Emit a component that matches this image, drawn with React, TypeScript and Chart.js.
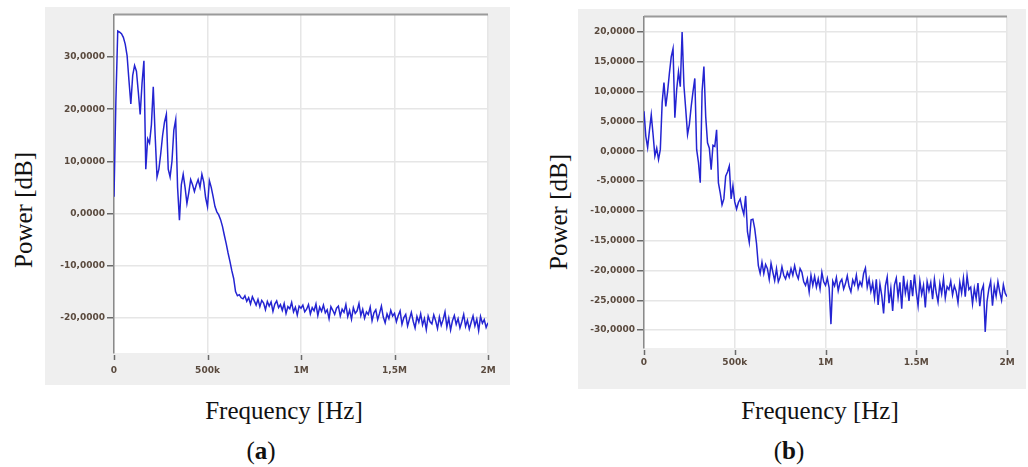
import React, { useEffect, useRef } from 'react';
import { Chart, registerables } from 'chart.js';

Chart.register(...registerables);

// Sample grid of the spectrum analyser traces
const FREQ_STEP_HZ = 10000;

// Panel (a): power in dB, one value every 10 kHz from 0 to 2 MHz
const powerA: number[] = [
  3.2, 21.5, 35.0, 34.8, 34.5, 33.8, 32.5, 30.3, 25.5, 21.0,
  26.5, 28.4, 27.3, 23.3, 19.0, 25.0, 29.3, 8.5, 14.3, 13.5,
  17.0, 24.3, 15.0, 7.0, 8.5, 11.5, 15.0, 17.5, 19.0, 8.5,
  7.0, 10.0, 16.0, 18.0, 5.0, -1.3, 5.5, 7.5, 5.0, 1.9,
  4.0, 6.5, 5.5, 4.2, 5.5, 6.5, 5.0, 7.5, 6.0, 3.0,
  1.3, 6.3, 5.0, 3.2, 1.3, 0.3, -0.3, -1.2, -2.5, -4.2,
  -5.8, -7.6, -9.2, -11.0, -12.5, -15.0, -15.8, -15.6, -16.2, -16.4,
  -15.8, -16.9, -16.2, -17.4, -16.0, -16.8, -17.6, -16.5, -17.9, -16.7,
  -17.2, -18.5, -16.9, -17.8, -17.0, -18.8, -17.4, -16.8, -18.1, -17.5,
  -18.6, -17.3, -19.2, -17.9, -18.3, -17.1, -18.9, -18.0, -19.5, -17.8,
  -18.2, -17.6, -18.9, -18.4, -17.5, -19.3, -18.1, -18.7, -17.4, -19.6,
  -18.0, -18.8, -17.6, -19.1, -18.5, -20.2, -17.9, -18.6, -19.4, -18.2,
  -17.8, -19.7, -18.4, -19.0, -17.5, -19.8, -18.6, -20.3, -18.1, -19.2,
  -18.7, -17.3, -19.6, -18.4, -20.1, -18.9, -19.4, -18.0, -20.6, -19.1,
  -18.5, -20.4, -19.2, -17.8, -19.9, -21.0, -19.3, -20.2, -18.6, -19.7,
  -19.2, -20.8, -19.6, -18.7, -21.3, -20.0, -19.4, -21.6, -20.3, -19.0,
  -20.7, -22.0, -19.8, -20.9, -19.3, -21.4, -20.2, -22.3, -19.7, -20.8,
  -21.2, -19.5, -20.6, -22.1, -19.9, -21.5, -20.4, -18.9, -21.8, -20.1,
  -22.4, -20.6, -19.6, -21.3, -20.2, -22.0, -20.8, -19.4, -21.7, -20.5,
  -22.2, -20.9, -19.7, -21.6, -20.3, -22.5, -19.8, -21.1, -20.4, -21.9,
  -21.0,
];

// Panel (b): power in dB, one value every 10 kHz from 0 to 2 MHz
const powerB: number[] = [
  6.7, 2.5, 0.6, 3.5, 6.1, 2.8, -0.8, 0.5, -1.4, 0.3,
  8.1, 11.5, 7.5, 10.0, 13.1, 15.8, 17.2, 5.6, 10.3, 13.3,
  10.8, 20.0, 11.0, 7.0, 2.8, 4.5, 7.5, 10.0, 12.2, 0.3,
  -1.9, -5.3, 10.0, 14.2, 5.8, 1.4, 0.5, -3.1, 1.0, 0.8,
  3.6, -5.3, -7.0, -9.0, -8.0, -4.2, -3.5, -2.5, -8.0, -5.8,
  -8.5, -9.7, -8.6, -8.0, -9.5, -10.6, -7.5, -13.5, -15.3, -11.5,
  -11.4, -13.0, -15.5, -19.2, -20.5, -18.6, -20.5, -19.0, -19.7, -21.5,
  -18.8, -20.3, -21.7, -19.7, -21.9, -21.1, -19.4, -20.8, -21.4, -20.3,
  -21.1, -19.7, -20.8, -19.2, -20.6, -21.4, -19.7, -20.3, -21.9, -22.5,
  -21.4, -23.6, -20.8, -22.5, -21.0, -22.8, -21.4, -23.1, -20.3, -21.9,
  -22.5, -21.3, -22.9, -29.0, -21.8, -22.6, -21.2, -23.4, -22.0, -21.5,
  -23.1, -22.2, -20.9, -22.7, -23.6, -21.6, -22.4, -20.8, -23.0, -21.9,
  -22.6, -20.5, -19.6, -22.8, -21.4, -23.5, -22.1, -24.6, -21.5, -25.8,
  -22.3, -24.2, -27.2, -22.6, -21.1, -25.5, -23.0, -26.8, -22.4, -21.3,
  -24.5, -22.0, -26.4, -20.9, -23.8, -22.2, -25.1, -21.6, -24.3, -20.7,
  -23.6, -25.9, -21.8, -24.0, -22.5, -26.2, -21.9, -23.4, -22.0, -24.8,
  -21.5, -23.7, -25.3, -22.2, -23.9, -21.4, -24.6, -22.7, -23.2, -21.8,
  -24.1, -22.6, -23.5, -25.4, -22.0, -23.8, -21.3, -24.4, -20.9, -23.2,
  -22.8, -25.6, -23.0, -24.7, -22.1, -26.0, -23.4, -22.5, -30.3, -25.2,
  -23.1, -21.8, -25.9, -22.7, -24.3, -21.9, -23.6, -25.0, -22.4, -23.8,
  -24.4,
];

const xTickValues = [0, 500000, 1000000, 1500000, 2000000];
const xTickLabelsA = ['0', '500k', '1M', '1,5M', '2M'];
const xTickLabelsB = ['0', '500k', '1M', '1.5M', '2M'];
const yTicksA = [30, 20, 10, 0, -10, -20];
const yTicksB = [20, 15, 10, 5, 0, -5, -10, -15, -20, -25, -30];

const LINE_COLOR = '#2424d2';
const TICK_TEXT = '#5a4a3e';
const GRID = '#e6e6e6';
const PANEL_BG = '#efefef';

type PanelProps = {
  values: number[];
  xLabels: string[];
  yTicks: number[];
  yMin: number;
  yMax: number;
  width: number;
  height: number;
  padTop: number;
  padRight: number;
  yAxisWidth: number;
  xAxisHeight: number;
  xLabelPad: number;
  xTickGap: number;
};

function SpectrumPanel(p: PanelProps) {
  const ref = useRef<HTMLCanvasElement | null>(null);
  useEffect(() => {
    if (!ref.current) return;
    const framePlugin = {
      id: 'frame',
      beforeDraw(chart: any) {
        const { ctx, chartArea: a } = chart;
        ctx.save();
        ctx.fillStyle = PANEL_BG;
        ctx.fillRect(0, 0, chart.width, chart.height);
        ctx.fillStyle = '#ffffff';
        ctx.fillRect(a.left, a.top, a.right - a.left, a.bottom - a.top);
        ctx.restore();
      },
      afterDraw(chart: any) {
        const { ctx, chartArea: a } = chart;
        const xs = chart.scales.x;
        ctx.save();
        ctx.strokeStyle = '#9a9a9a';
        ctx.lineWidth = 2;
        ctx.beginPath();
        ctx.moveTo(a.left, a.top);
        ctx.lineTo(a.right, a.top);
        ctx.stroke();
        ctx.strokeStyle = '#6a6a6a';
        ctx.lineWidth = 1.5;
        for (const v of xTickValues) {
          const px = Math.round(xs.getPixelForValue(v)) + 0.5;
          ctx.beginPath();
          ctx.moveTo(px, a.bottom + p.xTickGap);
          ctx.lineTo(px, a.bottom + p.xTickGap + 5);
          ctx.stroke();
        }
        ctx.restore();
      },
    };
    const chart = new Chart(ref.current, {
      type: 'line',
      data: {
        datasets: [
          {
            data: p.values.map((v, i) => ({ x: i * FREQ_STEP_HZ, y: v })),
            borderColor: LINE_COLOR,
            borderWidth: 1.5,
            pointRadius: 0,
            tension: 0,
            fill: false,
          },
        ],
      },
      options: {
        responsive: false,
        animation: false,
        events: [],
        layout: { padding: { top: p.padTop, right: p.padRight, left: 0, bottom: 0 } },
        plugins: { legend: { display: false }, tooltip: { enabled: false } },
        scales: {
          x: {
            type: 'linear',
            min: 0,
            max: 2000000,
            afterBuildTicks: (s: any) => {
              s.ticks = xTickValues.map((v) => ({ value: v }));
            },
            afterFit: (s: any) => {
              s.height = p.xAxisHeight;
            },
            grid: { color: GRID, lineWidth: 1.5, drawTicks: false },
            border: { display: false },
            ticks: {
              padding: p.xLabelPad,
              maxRotation: 0,
              autoSkip: false,
              color: TICK_TEXT,
              font: { family: 'DejaVu Sans', size: 9, weight: 'bold' },
              callback: (v: any) => {
                const idx = xTickValues.indexOf(Number(v));
                return idx >= 0 ? p.xLabels[idx] : '';
              },
            },
          },
          y: {
            type: 'linear',
            min: p.yMin,
            max: p.yMax,
            afterBuildTicks: (s: any) => {
              s.ticks = p.yTicks.map((v) => ({ value: v }));
            },
            afterFit: (s: any) => {
              s.width = p.yAxisWidth;
            },
            grid: { color: GRID, lineWidth: 1.5, drawTicks: true, tickLength: 7, tickColor: '#6a6a6a', tickWidth: 1.5 },
            border: { display: true, color: '#8a8a8a', width: 1.5 },
            ticks: {
              padding: 2,
              color: TICK_TEXT,
              font: { family: 'DejaVu Sans', size: 9, weight: 'bold' },
              callback: (v: any) => Number(v).toFixed(4).replace('.', ','),
            },
          },
        },
      },
      plugins: [framePlugin],
    } as any);
    return () => chart.destroy();
  }, []);
  return <canvas ref={ref} width={p.width} height={p.height} style={{ display: 'block', width: p.width, height: p.height }} />;
}

const serif = '"Liberation Serif", "Times New Roman", serif';

function Caption({ text, x, y, rotate }: { text: React.ReactNode; x: number; y: number; rotate?: boolean }) {
  return (
    <div
      style={{
        position: 'absolute',
        left: x,
        top: y,
        transform: `translate(-50%, -50%)${rotate ? ' rotate(-90deg)' : ''}`,
        whiteSpace: 'nowrap',
        fontFamily: serif,
        fontSize: 25,
        lineHeight: '28px',
        color: '#111',
      }}
    >
      {text}
    </div>
  );
}

export default function App() {
  return (
    <div style={{ position: 'absolute', left: 0, top: 0, width: 1028, height: 467, background: '#fff', overflow: 'hidden' }}>
      <div style={{ position: 'absolute', left: 45, top: 7 }}>
        <SpectrumPanel
          values={powerA}
          xLabels={xTickLabelsA}
          yTicks={yTicksA}
          yMin={-26.8}
          yMax={38.2}
          width={465}
          height={378}
          padTop={3}
          padRight={22}
          yAxisWidth={69}
          xAxisHeight={32}
          xLabelPad={12}
          xTickGap={2}
        />
      </div>
      <div style={{ position: 'absolute', left: 578, top: 9 }}>
        <SpectrumPanel
          values={powerB}
          xLabels={xTickLabelsB}
          yTicks={yTicksB}
          yMin={-33.0}
          yMax={22.6}
          width={448}
          height={380}
          padTop={5}
          padRight={19}
          yAxisWidth={66}
          xAxisHeight={41}
          xLabelPad={9}
          xTickGap={2}
        />
      </div>
      <Caption text="Power [dB]" x={24} y={210} rotate />
      <Caption text="Power [dB]" x={559} y={212} rotate />
      <Caption text="Frequency [Hz]" x={284} y={411} />
      <Caption text="Frequency [Hz]" x={820} y={411} />
      <Caption text={<span>(<b>a</b>)</span>} x={261} y={451} />
      <Caption text={<span>(<b>b</b>)</span>} x={789} y={451} />
    </div>
  );
}
